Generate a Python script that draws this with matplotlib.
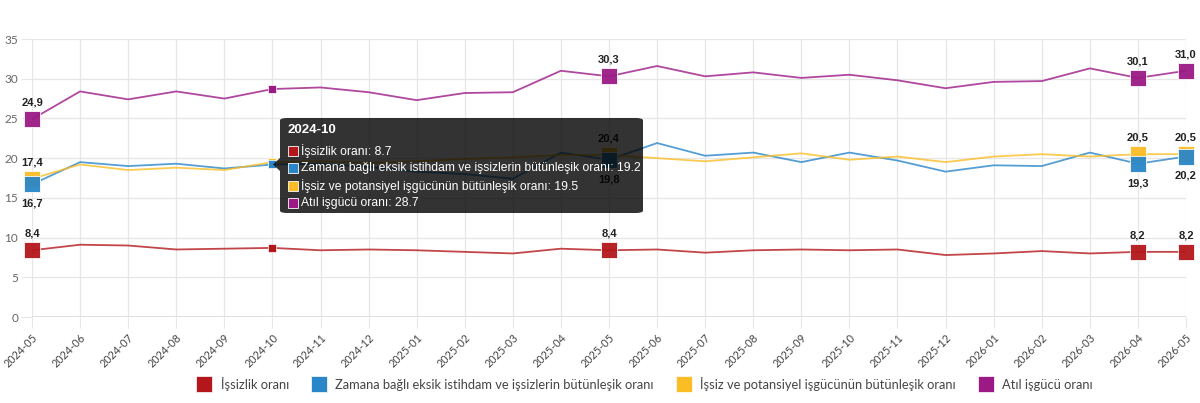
import numpy as np
import matplotlib.pyplot as plt
from matplotlib.patches import FancyBboxPatch, Polygon, Rectangle
from matplotlib.lines import Line2D

months = ['2024-05', '2024-06', '2024-07', '2024-08', '2024-09', '2024-10', '2024-11', '2024-12',
          '2025-01', '2025-02', '2025-03', '2025-04', '2025-05', '2025-06', '2025-07', '2025-08',
          '2025-09', '2025-10', '2025-11', '2025-12', '2026-01', '2026-02', '2026-03', '2026-04', '2026-05']

issizlik = [8.4, 9.1, 9.0, 8.5, 8.6, 8.7, 8.4, 8.5, 8.4, 8.2, 8.0, 8.6, 8.4, 8.5, 8.1, 8.4,
            8.5, 8.4, 8.5, 7.8, 8.0, 8.3, 8.0, 8.2, 8.2]
zamana = [16.7, 19.5, 19.0, 19.3, 18.7, 19.2, 19.3, 18.9, 18.3, 18.0, 17.4, 20.7, 19.8, 21.9, 20.3, 20.7,
          19.5, 20.7, 19.7, 18.3, 19.1, 19.0, 20.7, 19.3, 20.2]
potansiyel = [17.4, 19.2, 18.5, 18.8, 18.5, 19.5, 19.6, 19.4, 19.6, 19.9, 20.1, 20.4, 20.4, 20.0, 19.6, 20.1,
              20.6, 19.8, 20.2, 19.5, 20.2, 20.5, 20.2, 20.5, 20.5]
atil = [24.9, 28.4, 27.4, 28.4, 27.5, 28.7, 28.9, 28.3, 27.3, 28.2, 28.3, 31.0, 30.3, 31.6, 30.3, 30.8,
        30.1, 30.5, 29.8, 28.8, 29.6, 29.7, 31.3, 30.1, 31.0]

names = ['İşsizlik oranı', 'Zamana bağlı eksik istihdam ve işsizlerin bütünleşik oranı',
         'İşsiz ve potansiyel işgücünün bütünleşik oranı', 'Atıl işgücü oranı']
colors = ['#b3171b', '#2a86c8', '#fbbd26', '#9b1a86']
series = [issizlik, zamana, potansiyel, atil]

big_idx = [0, 12, 23, 24]   # highlighted points with labels
hover_idx = 5               # tooltip month
below = [False, True, False, False]

plt.rcParams['font.family'] = ['Lato', 'DejaVu Sans']
fig = plt.figure(figsize=(12, 4.03), dpi=100)
W, H = 1200, 403
ax = fig.add_axes([32 / W, 1 - 317 / H, (1186 - 32) / W, (317 - 39) / H])

x = np.arange(len(months))
for k, (vals, c) in enumerate(zip(series, colors)):
    ax.plot(x, vals, color=c, lw=1.3, alpha=0.8, zorder=3)
    ax.plot([x[i] for i in big_idx], [vals[i] for i in big_idx], 's', ms=11,
            color=c, mec='white', mew=0.6, zorder=4.5 - 0.1 * k, alpha=0.95, clip_on=False)
    ax.plot(x[hover_idx], vals[hover_idx], 's', ms=6, color=c, mec='white', mew=0.5, zorder=4.5 - 0.1 * k)

for vals, b in zip(series, below):
    for i in big_idx:
        lbl = f'{vals[i]:.1f}'.replace('.', ',')
        off = -14 if b else 12
        ax.annotate(lbl, (x[i], vals[i]), xytext=(0, off), textcoords='offset points',
                    ha='center', va='center', fontsize=8, fontweight='bold',
                    color='#222222', family='Liberation Sans', zorder=5, annotation_clip=False)

ax.set_xlim(0, 24)
ax.set_ylim(0, 35)
ax.set_yticks(range(0, 36, 5))
ax.set_xticks(x)
ax.set_xticklabels(months, rotation=45, ha='right', rotation_mode='anchor', fontsize=7.8, color='#444444')
ax.tick_params(axis='y', labelsize=8.5, labelcolor='#666666', length=8, color='#e6e6e6', pad=2)
ax.tick_params(axis='x', length=8, color='#e6e6e6', pad=3)
ax.grid(True, color='#e6e6e6', lw=0.9)
ax.set_axisbelow(True)
for s in ax.spines.values():
    s.set_visible(False)
ax.axhline(0, color='#d9d9d9', lw=1.2, zorder=1)


def fpos(px, py):
    return px / W, 1 - py / H


# tooltip
bx0, by0 = fpos(280, 213)
bx1, by1 = fpos(643, 118)
box = FancyBboxPatch((bx0, by0), bx1 - bx0, by1 - by0, boxstyle='round,pad=0,rounding_size=0.006',
                     transform=fig.transFigure, fc='black', ec='none', alpha=0.8, zorder=10)
fig.patches.append(box)
caret = Polygon([fpos(273, 164.5), fpos(280, 158), fpos(280, 171)], closed=True,
                transform=fig.transFigure, fc='black', ec='none', alpha=0.8, zorder=10)
fig.patches.append(caret)
fig.text(*fpos(288, 130), months[hover_idx], color='white', fontsize=9.5, fontweight='bold',
         family='Liberation Sans', va='center', ha='left', zorder=11)
for k, (n, c, vals) in enumerate(zip(names, colors, series)):
    yy = 151 + k * 17.3
    sx, sy = fpos(288, yy + 5)
    fig.patches.append(Rectangle((sx, sy), 10 / W, 10 / H, transform=fig.transFigure,
                                 fc=c, ec='white', lw=0.6, zorder=11))
    fig.text(*fpos(301, yy), f'{n}: {vals[hover_idx]}', color='white', fontsize=8.7,
             family='Liberation Sans', va='center', ha='left', zorder=11)

handles = [Line2D([], [], marker='s', ls='none', ms=12, color=c, mec='white', mew=0.5) for c in colors]
fig.legend(handles, names, loc='center', bbox_to_anchor=(0.535, 1 - 384 / H), ncol=4, frameon=False,
           fontsize=9.3, handletextpad=0.3, columnspacing=1.3, labelcolor='#444444')

plt.savefig('out.png', dpi=100)
plt.close('all')
